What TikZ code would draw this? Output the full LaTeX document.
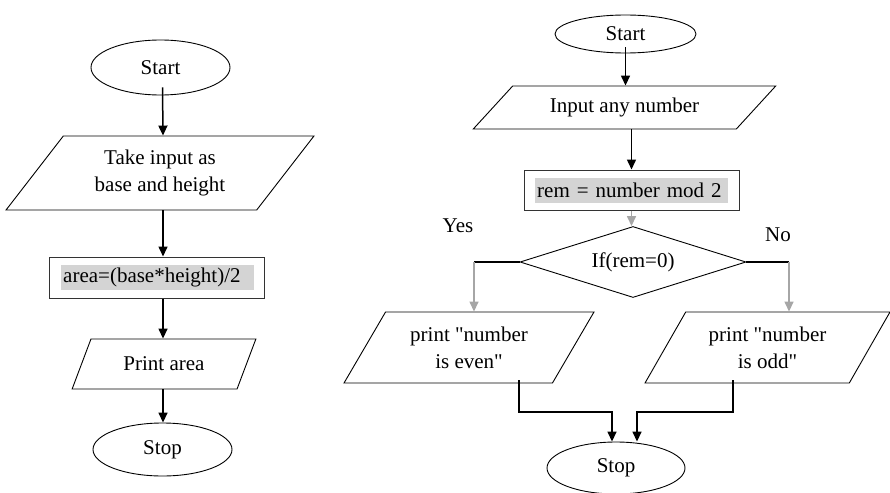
\documentclass[tikz,border=0pt]{standalone}
\usepackage{fontspec}
\setmainfont{Liberation Serif}
\usetikzlibrary{shapes.geometric,arrows.meta}

\begin{document}
\begin{tikzpicture}[x=1pt,y=-1pt,
    font=\fontsize{21}{27}\selectfont,
    term/.style={draw,ellipse,line width=0.9pt,inner sep=0pt},
    io/.style={draw,trapezium,trapezium stretches=true,line width=0.9pt,inner sep=0pt,align=center},
    proc/.style={draw=black!80,rectangle,line width=1pt,inner sep=0pt},
    hilite/.style={fill=black!17,inner xsep=2pt,inner ysep=0pt,minimum height=25,text width=189pt,align=left,anchor=west},
    decide/.style={draw,diamond,aspect=3.18,line width=0.9pt,inner sep=0pt},
    arr/.style={-{Triangle[width=9pt,length=10pt]},line width=1.5pt},
    garr/.style={arr,black!35},
]
    \useasboundingbox (0,0) rectangle (890,492);

    % Area of triangle
    \node[term,minimum width=139,minimum height=55] (start) at (160.5,67.5) {Start};
    \node[io,trapezium left angle=50,trapezium right angle=130,minimum width=308,minimum height=74] (take) at (160,173) {Take input as\\base and height};
    \node[proc,minimum width=215,minimum height=41] (area) at (156.5,277.5) {};
    \node[hilite] (areatxt) at (61,277.5) {area=(base*height)/2};
    \node[io,trapezium left angle=53.5,trapezium right angle=126.5,minimum width=184,minimum height=50] (print) at (164,364) {Print area};
    \node[term,minimum width=139,minimum height=53] (stop) at (162.5,449.5) {Stop};

    \draw[arr] ([xshift=2pt,yshift=8pt]start.south) -- ([xshift=3pt]take.north);
    \draw[arr] ([xshift=3pt]take.south) -- ([xshift=3pt]take.south |- area.north);
    \draw[arr] ([xshift=3pt]area.south -| take.south) -- ([xshift=3pt]take.south |- print.north);
    \draw[arr] ([xshift=3pt]print.south -| take.south) -- ([xshift=3pt]take.south |- stop.north);

    % Even or odd
    \node[term,minimum width=141,minimum height=38] (start2) at (625.5,34) {Start};
    \node[io,trapezium left angle=36,trapezium right angle=144,minimum width=303,minimum height=43] (input) at (624.5,107.5) {Input any number};
    \node[proc,minimum width=215,minimum height=40] (rem) at (631.5,190) {};
    \node[hilite] (remtxt) at (535,190) {rem = number mod 2};
    \node[decide,minimum width=226,minimum height=71] (test) at (633,262) {If(rem=0)};
    \node[io,trapezium left angle=55,trapezium right angle=125,minimum width=250,minimum height=71] (even) at (469,347.5) {print \textquotedbl number\\is even\textquotedbl};
    \node[io,trapezium left angle=55,trapezium right angle=125,minimum width=245,minimum height=71] (odd) at (767.5,347.5) {print \textquotedbl number\\is odd\textquotedbl};
    \node[term,minimum width=138,minimum height=52] (stop2) at (616,468) {Stop};
    \node (yes) at (458,226) {Yes};
    \node (no) at (778,235) {No};

    \coordinate (yesc) at (474,262);
    \coordinate (noc) at (789,262);
    \coordinate (evenout) at ([xshift=50pt,yshift=3pt]even.south);
    \coordinate (oddout) at ([xshift=-34.5pt,yshift=3pt]odd.south);
    \coordinate (joinl) at (612,412);
    \coordinate (joinr) at (637,412);

    \draw[arr] ([yshift=6pt]start2.south) -- (start2.south |- input.north);
    \draw[arr] (input.south -| rem.north) -- (rem.north);
    \draw[garr] (rem.south) -- (rem.south |- test.north);
    \draw[line width=1.5pt] (test.west) -- (yesc);
    \draw[line width=1.5pt] (test.east) -- (noc);
    \draw[garr] (yesc) -- (yesc |- even.north);
    \draw[garr] (noc) -- (noc |- odd.north);
    \draw[arr] (evenout) |- (joinl) -- (joinl |- stop2.north);
    \draw[arr] (oddout) |- (joinr) -- (joinr |- stop2.north);
\end{tikzpicture}
\end{document}
